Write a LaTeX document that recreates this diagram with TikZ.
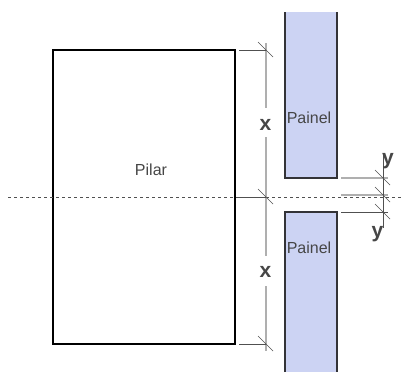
\documentclass[tikz,border=0pt]{standalone}
\usepackage{fontspec}
\setmainfont{Liberation Sans}
\usetikzlibrary{calc}
\definecolor{painelfill}{RGB}{204,211,243}
\definecolor{painelline}{RGB}{51,51,55}
\definecolor{cotaline}{RGB}{175,175,175}
\definecolor{tickline}{RGB}{80,80,80}
\definecolor{labeltext}{RGB}{70,70,70}
\tikzset{
  painel/.style={fill=painelfill, draw=none},
  painelside/.style={draw=painelline, line width=1.5pt},
  cota/.style={draw=cotaline, line width=1.3pt},
  tick/.style={draw=tickline, line width=0.7pt},
  fino/.style={draw=tickline, line width=0.5pt},
  label/.style={text=labeltext, inner sep=0pt, font=\fontsize{16}{16}\selectfont},
  letra/.style={text=labeltext, inner sep=0pt, font=\fontsize{21}{21}\selectfont\bfseries}
}
\begin{document}
\begin{tikzpicture}[x=1pt, y=-1pt]
  \useasboundingbox (0,0) rectangle (404,372);

  \coordinate (PA) at (285,12);
  \coordinate (PB) at (337,178);
  \coordinate (QA) at (285,212);
  \coordinate (QB) at (337,372);

  % paineis
  \fill[painel] (PA) rectangle (PB);
  \fill[painel] (QA) rectangle (QB);
  \draw[painelside] (PA) -- (PA |- PB) -- (PB) -- (PB |- PA);
  \draw[painelside] (QB -| QA) -- (QA) -- (QA -| QB) -- (QB);

  % pilar
  \node[draw, line width=1.1pt, minimum width=182pt, minimum height=294pt, inner sep=0pt] (pilar) at (144,197) {};
  \node[label] (Pilar) at (151,170) {Pilar};
  \node[label] (Painel1) at (309,118) {Painel};
  \node[label] (Painel2) at (309,248) {Painel};

  \coordinate (L) at (8,197);
  \coordinate (R) at (404,197);
  \draw[dashed, draw=tickline, line width=0.7pt] (L) -- (R);

  % cotas x
  \coordinate (X0) at (266,43);
  \coordinate (X1) at (266,50);
  \coordinate (X2) at (266,197);
  \coordinate (X3) at (266,344);
  \coordinate (X4) at (266,351);
  \coordinate (X5) at (266,108);
  \coordinate (X6) at (266,137);
  \coordinate (X7) at (266,256);
  \coordinate (X8) at (266,286);
  \coordinate (E1) at (239,50);
  \coordinate (E2) at (239,197);
  \coordinate (E3) at (239,344);
  \node[letra] (xa) at (265.5,125) {x};
  \node[letra] (xb) at (265.5,271.5) {x};
  \draw[cota] (X0) -- (X5);
  \draw[cota] (X6) -- (X7);
  \draw[cota] (X8) -- (X4);
  \draw[fino] (E1) -- (X1);
  \draw[fino] (E2) -- (X2);
  \draw[fino] (E3) -- (X3);

  % cotas y
  \coordinate (Y0) at (383,155);
  \coordinate (Y1) at (383,178);
  \coordinate (Y2) at (383,195);
  \coordinate (Y3) at (383,212);
  \coordinate (Y4) at (383,228);
  \draw[cota] (341,178) -- (388,178);
  \draw[cota] (341,195) -- (388,195);
  \draw[fino] (341,212) -- (388,212);
  \draw[fino] (Y0) -- (Y4);
  \node[letra] (ya) at (388,161) {y};
  \node[letra] (yb) at (377.5,234) {y};

  % marcas
  \foreach \p in {X1,X2,X3,Y1,Y2,Y3}
    \draw[tick] ($(\p)+(-8,-8)$) -- ($(\p)+(7,7)$);
\end{tikzpicture}
\end{document}
